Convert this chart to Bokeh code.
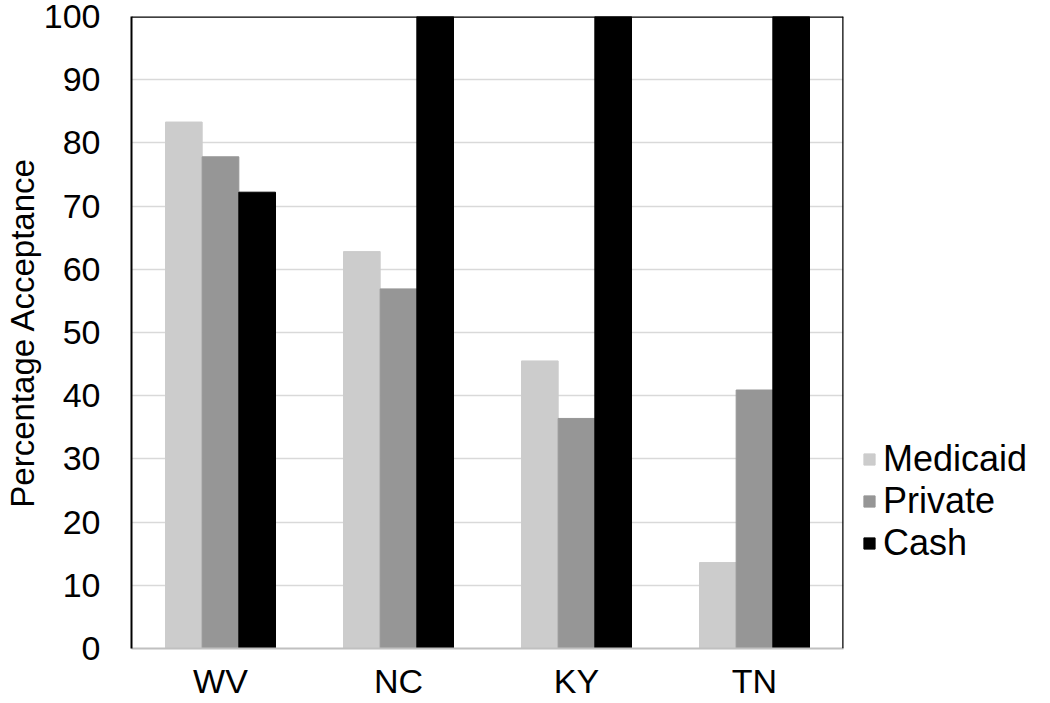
from bokeh.plotting import figure
from bokeh.models import ColumnDataSource, Legend, LegendItem, Span, FactorRange
from bokeh.transform import dodge
from bokeh.embed import file_html
from bokeh.resources import INLINE

states = ["WV", "NC", "KY", "TN"]
series = ["Medicaid", "Private", "Cash"]
medicaid = [83.3, 62.8, 45.5, 13.6]
private = [77.8, 56.9, 36.4, 40.9]
cash = [72.2, 100, 100, 100]
yticks = [0, 10, 20, 30, 40, 50, 60, 70, 80, 90, 100]
colors = ["#cccccc", "#969696", "#000000"]

src = ColumnDataSource(dict(state=states, Medicaid=medicaid, Private=private, Cash=cash))

FONT = "Liberation Sans"

p = figure(x_range=FactorRange(*states), y_range=(0, 100),
           frame_width=712, frame_height=632,
           min_border_left=131, min_border_top=16, min_border_right=207, min_border_bottom=55,
           output_backend="svg", toolbar_location=None)
p.outline_line_color = None
p.background_fill_color = "white"
p.border_fill_color = "white"

bw = 0.206
offsets = [-bw, 0.0, bw]
renderers = []
for s, c, off in zip(series, colors, offsets):
    r = p.vbar(x=dodge("state", off, range=p.x_range), top=s, width=bw, source=src,
               fill_color=c, line_color=c, line_width=1)
    renderers.append(r)

p.xgrid.grid_line_color = None
p.ygrid.grid_line_color = "#d9d9d9"
p.ygrid.grid_line_width = 1.5
p.yaxis.ticker = yticks

for ax in (p.xaxis[0], p.yaxis[0]):
    ax.major_tick_line_color = None
    ax.minor_tick_line_color = None
    ax.major_label_text_font = FONT
    ax.major_label_text_font_size = "34px"
    ax.major_label_text_color = "black"

p.yaxis.axis_line_color = "black"
p.yaxis.axis_line_width = 2
p.yaxis.major_label_standoff = 25
p.yaxis.axis_label = "Percentage Acceptance"
p.yaxis.axis_label_text_font = FONT
p.yaxis.axis_label_text_font_size = "33px"
p.yaxis.axis_label_text_font_style = "normal"
p.yaxis.axis_label_text_color = "black"
p.yaxis.axis_label_standoff = 0

p.xaxis.axis_line_color = "#c0c0c0"
p.xaxis.axis_line_width = 2
p.xaxis.major_label_standoff = 7

p.add_layout(Span(location=100, dimension="width", line_color="black", line_width=2.5))
p.add_layout(Span(location=4, dimension="height", line_color="black", line_width=2.5))

legend = Legend(items=[LegendItem(label=s, renderers=[r]) for s, r in zip(series, renderers)],
                location=(19, 84), border_line_color=None, background_fill_alpha=0,
                padding=0, margin=0, spacing=0, label_standoff=7,
                glyph_width=14, glyph_height=14,
                label_text_font=FONT, label_text_font_size="36px", label_text_color="black")
p.add_layout(legend, "right")

open("out.html", "w").write(file_html(p, INLINE))
